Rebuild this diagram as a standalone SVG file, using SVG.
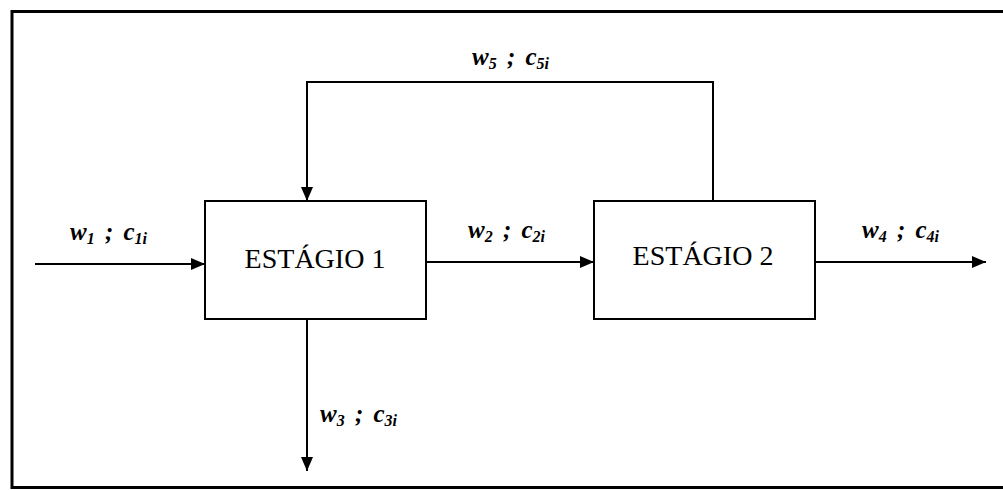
<svg xmlns="http://www.w3.org/2000/svg" width="1003" height="490" viewBox="0 0 1003 490">
  <defs>
    <marker id="arrow" viewBox="0 0 14 12" refX="14" refY="6" markerWidth="14" markerHeight="12" markerUnits="userSpaceOnUse" orient="auto">
      <path d="M0,0 L14,6 L0,12 Z" fill="#000"/>
    </marker>
    <style>
      .frame { fill: none; stroke: #000; stroke-width: 3; }
      .box { fill: #fff; stroke: #000; stroke-width: 2; }
      .flow { fill: none; stroke: #000; stroke-width: 2; }
      .title { font-family: "Liberation Serif", "Times New Roman", serif; font-size: 28px; fill: #000; text-anchor: middle; }
      .lbl { font-family: "Liberation Serif", "Times New Roman", serif; font-size: 25px; font-weight: bold; font-style: italic; fill: #000; word-spacing: 4px; }
      .sub { font-size: 16px; }
    </style>
  </defs>

  <rect class="frame" x="12" y="11.5" width="1000" height="476"/>

  <g id="connectors">
    <line class="flow" x1="35" y1="264" x2="205" y2="264" marker-end="url(#arrow)"/>
    <line class="flow" x1="426" y1="262" x2="594" y2="262" marker-end="url(#arrow)"/>
    <line class="flow" x1="815" y1="262" x2="986" y2="262" marker-end="url(#arrow)"/>
    <line class="flow" x1="307" y1="319" x2="307" y2="471" marker-end="url(#arrow)"/>
    <polyline class="flow" points="713,201 713,82 307,82 307,201" marker-end="url(#arrow)"/>
  </g>

  <g id="stage1">
    <rect class="box" x="205" y="201" width="221" height="118"/>
    <text class="title" x="315" y="268">ESTÁGIO 1</text>
  </g>

  <g id="stage2">
    <rect class="box" x="594" y="201" width="221" height="118"/>
    <text class="title" x="703" y="265">ESTÁGIO 2</text>
  </g>

  <g id="labels">
    <text class="lbl" x="70" y="240">w<tspan class="sub" dy="4">1</tspan><tspan dy="-4"> ; c</tspan><tspan class="sub" dy="4">1i</tspan></text>
    <text class="lbl" x="468" y="238">w<tspan class="sub" dy="4">2</tspan><tspan dy="-4"> ; c</tspan><tspan class="sub" dy="4">2i</tspan></text>
    <text class="lbl" x="862" y="238">w<tspan class="sub" dy="4">4</tspan><tspan dy="-4"> ; c</tspan><tspan class="sub" dy="4">4i</tspan></text>
    <text class="lbl" x="472" y="65">w<tspan class="sub" dy="4">5</tspan><tspan dy="-4"> ; c</tspan><tspan class="sub" dy="4">5i</tspan></text>
    <text class="lbl" x="320" y="422">w<tspan class="sub" dy="4">3</tspan><tspan dy="-4"> ; c</tspan><tspan class="sub" dy="4">3i</tspan></text>
  </g>
</svg>
